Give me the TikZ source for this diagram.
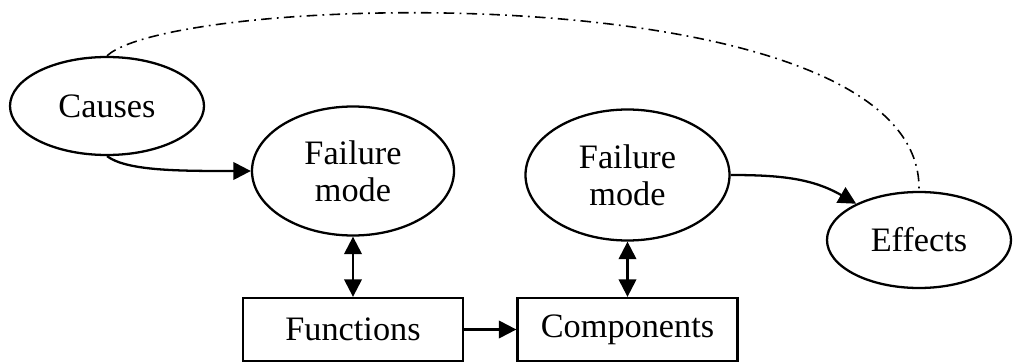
\documentclass[tikz,border=0pt]{standalone}
\usepackage{fontspec}
\setmainfont{Liberation Serif}
\usepackage{tikz}
\usetikzlibrary{shapes, arrows.meta, positioning}

\begin{document}
\begin{tikzpicture}[
    ovalnode/.style={ellipse, draw, line width=1.3pt, inner sep=0pt, align=center,
      font=\fontsize{19.5}{21}\selectfont},
    rectnode/.style={rectangle, draw, line width=1.3pt, minimum width=4.4cm,
      minimum height=1.26cm, font=\fontsize{19.5}{21}\selectfont},
    flow/.style={line width=1.3pt, -{Triangle[length=10pt,width=10pt]}},
    twoway/.style={line width=1.3pt, {Triangle[length=10pt,width=10pt]}-{Triangle[length=10pt,width=10pt]}}]
  \useasboundingbox (0,0) rectangle (20.26,7.24);
  % ovals
  \node[ovalnode, minimum width=3.88cm, minimum height=1.96cm] (causes) at (2.14,5.12) {Causes};
  \node[ovalnode, minimum width=4.04cm, minimum height=2.58cm] (failA) at (7.06,3.82) {Failure\\mode};
  \node[ovalnode, minimum width=4.08cm, minimum height=2.62cm] (failB) at (12.55,3.74) {Failure\\mode};
  \node[ovalnode, minimum width=3.68cm, minimum height=1.92cm] (effects) at (18.38,2.44) {Effects};
  % boxes
  \node[rectnode] (functions) at (7.06,0.65) {Functions};
  \node[rectnode] (components) at (12.55,0.65) {Components};
  % links
  \draw[flow] (causes.south) .. controls +(0.4,-0.3) and +(-1.4,0) .. (failA.west);
  \draw[flow] (failB.east) to[out=0, in=150] (effects.150);
  \draw[flow] (functions) -- (components);
  \draw[twoway] (failA.south) -- (functions.north);
  \draw[twoway] (failB.south) -- (components.north);
  \draw[line width=0.9pt, dash pattern=on 6pt off 3pt on 1pt off 3pt]
    (causes.north) .. controls (3.5,7.4) and (18.5,7.8) .. (effects.north);
\end{tikzpicture}
\end{document}
